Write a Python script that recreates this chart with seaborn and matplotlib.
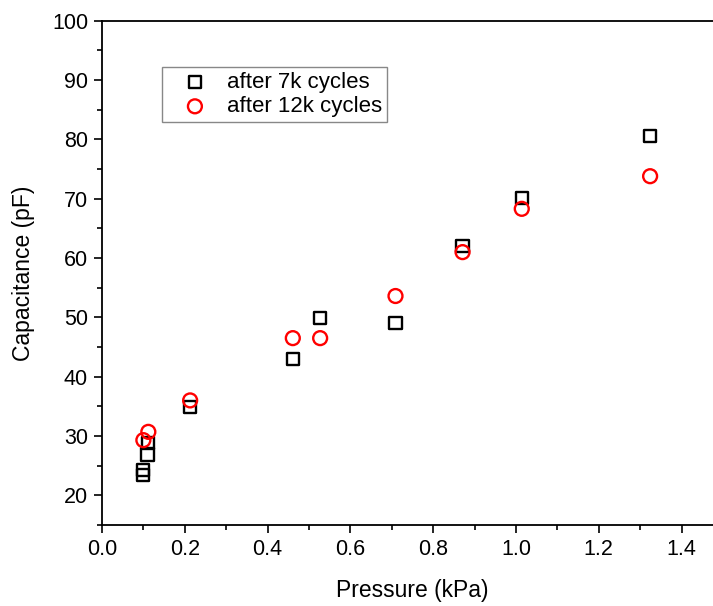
import matplotlib
matplotlib.use("Agg")
import matplotlib.pyplot as plt
import seaborn as sns
from matplotlib.ticker import MultipleLocator, FormatStrFormatter

# pressure (kPa) and capacitance (pF)
p_7k = [0.100, 0.100, 0.110, 0.112, 0.213, 0.461, 0.527, 0.709, 0.871, 1.014, 1.324]
c_7k = [23.4, 24.3, 26.9, 28.8, 34.9, 43.0, 49.9, 49.1, 62.0, 70.1, 80.6]

p_12k = [0.100, 0.112, 0.213, 0.461, 0.527, 0.709, 0.871, 1.014, 1.324]
c_12k = [29.3, 30.7, 36.0, 46.5, 46.5, 53.6, 61.0, 68.3, 73.8]

labels = ["after 7k cycles", "after 12k cycles"]

sns.set_style("ticks")
plt.rcParams["font.family"] = ["Liberation Sans", "DejaVu Sans"]
plt.rcParams["text.color"] = "black"
plt.rcParams["axes.labelcolor"] = "black"

fig = plt.figure(figsize=(7.13, 6.06), dpi=100)
ax = fig.add_axes([0.143, 0.1337, 0.871, 0.832])

sns.scatterplot(x=p_7k, y=c_7k, ax=ax, marker="s", s=78,
                facecolor="none", edgecolor="black", linewidth=1.7,
                label=labels[0], zorder=3)
sns.scatterplot(x=p_12k, y=c_12k, ax=ax, marker="o", s=100,
                facecolor="none", edgecolor="#ff0000", linewidth=1.7,
                label=labels[1], zorder=4)

ax.set_xlim(0, 1.5)
ax.set_ylim(15, 100)
ax.xaxis.set_minor_locator(MultipleLocator(0.1))
ax.yaxis.set_minor_locator(MultipleLocator(5))
ax.set_yticks([20, 30, 40, 50, 60, 70, 80, 90, 100])
ax.set_xticks([0.0, 0.2, 0.4, 0.6, 0.8, 1.0, 1.2, 1.4])
ax.xaxis.set_major_formatter(FormatStrFormatter("%.1f"))

ax.tick_params(which="major", length=6, width=1.2, direction="out",
               labelsize=15.5, colors="black", pad=4)
ax.tick_params(which="minor", length=3.5, width=1.2, direction="out", colors="black")
for side in ["left", "bottom", "top", "right"]:
    ax.spines[side].set_visible(True)
    ax.spines[side].set_linewidth(1.3)
    ax.spines[side].set_color("black")

ax.set_xlabel("Pressure (kPa)", fontsize=16.5, labelpad=14)
ax.set_ylabel("Capacitance (pF)", fontsize=16.5, labelpad=12)

leg = ax.legend(loc="upper left", bbox_to_anchor=(0.096, 0.9076), borderaxespad=0,
                fontsize=16, frameon=True, fancybox=False, framealpha=1,
                borderpad=0.2, handlelength=2.6, handletextpad=0.15, labelspacing=0.15)
leg.get_frame().set_edgecolor("#888888")
leg.get_frame().set_linewidth(1.0)

fig.savefig("out.png", dpi=100)
